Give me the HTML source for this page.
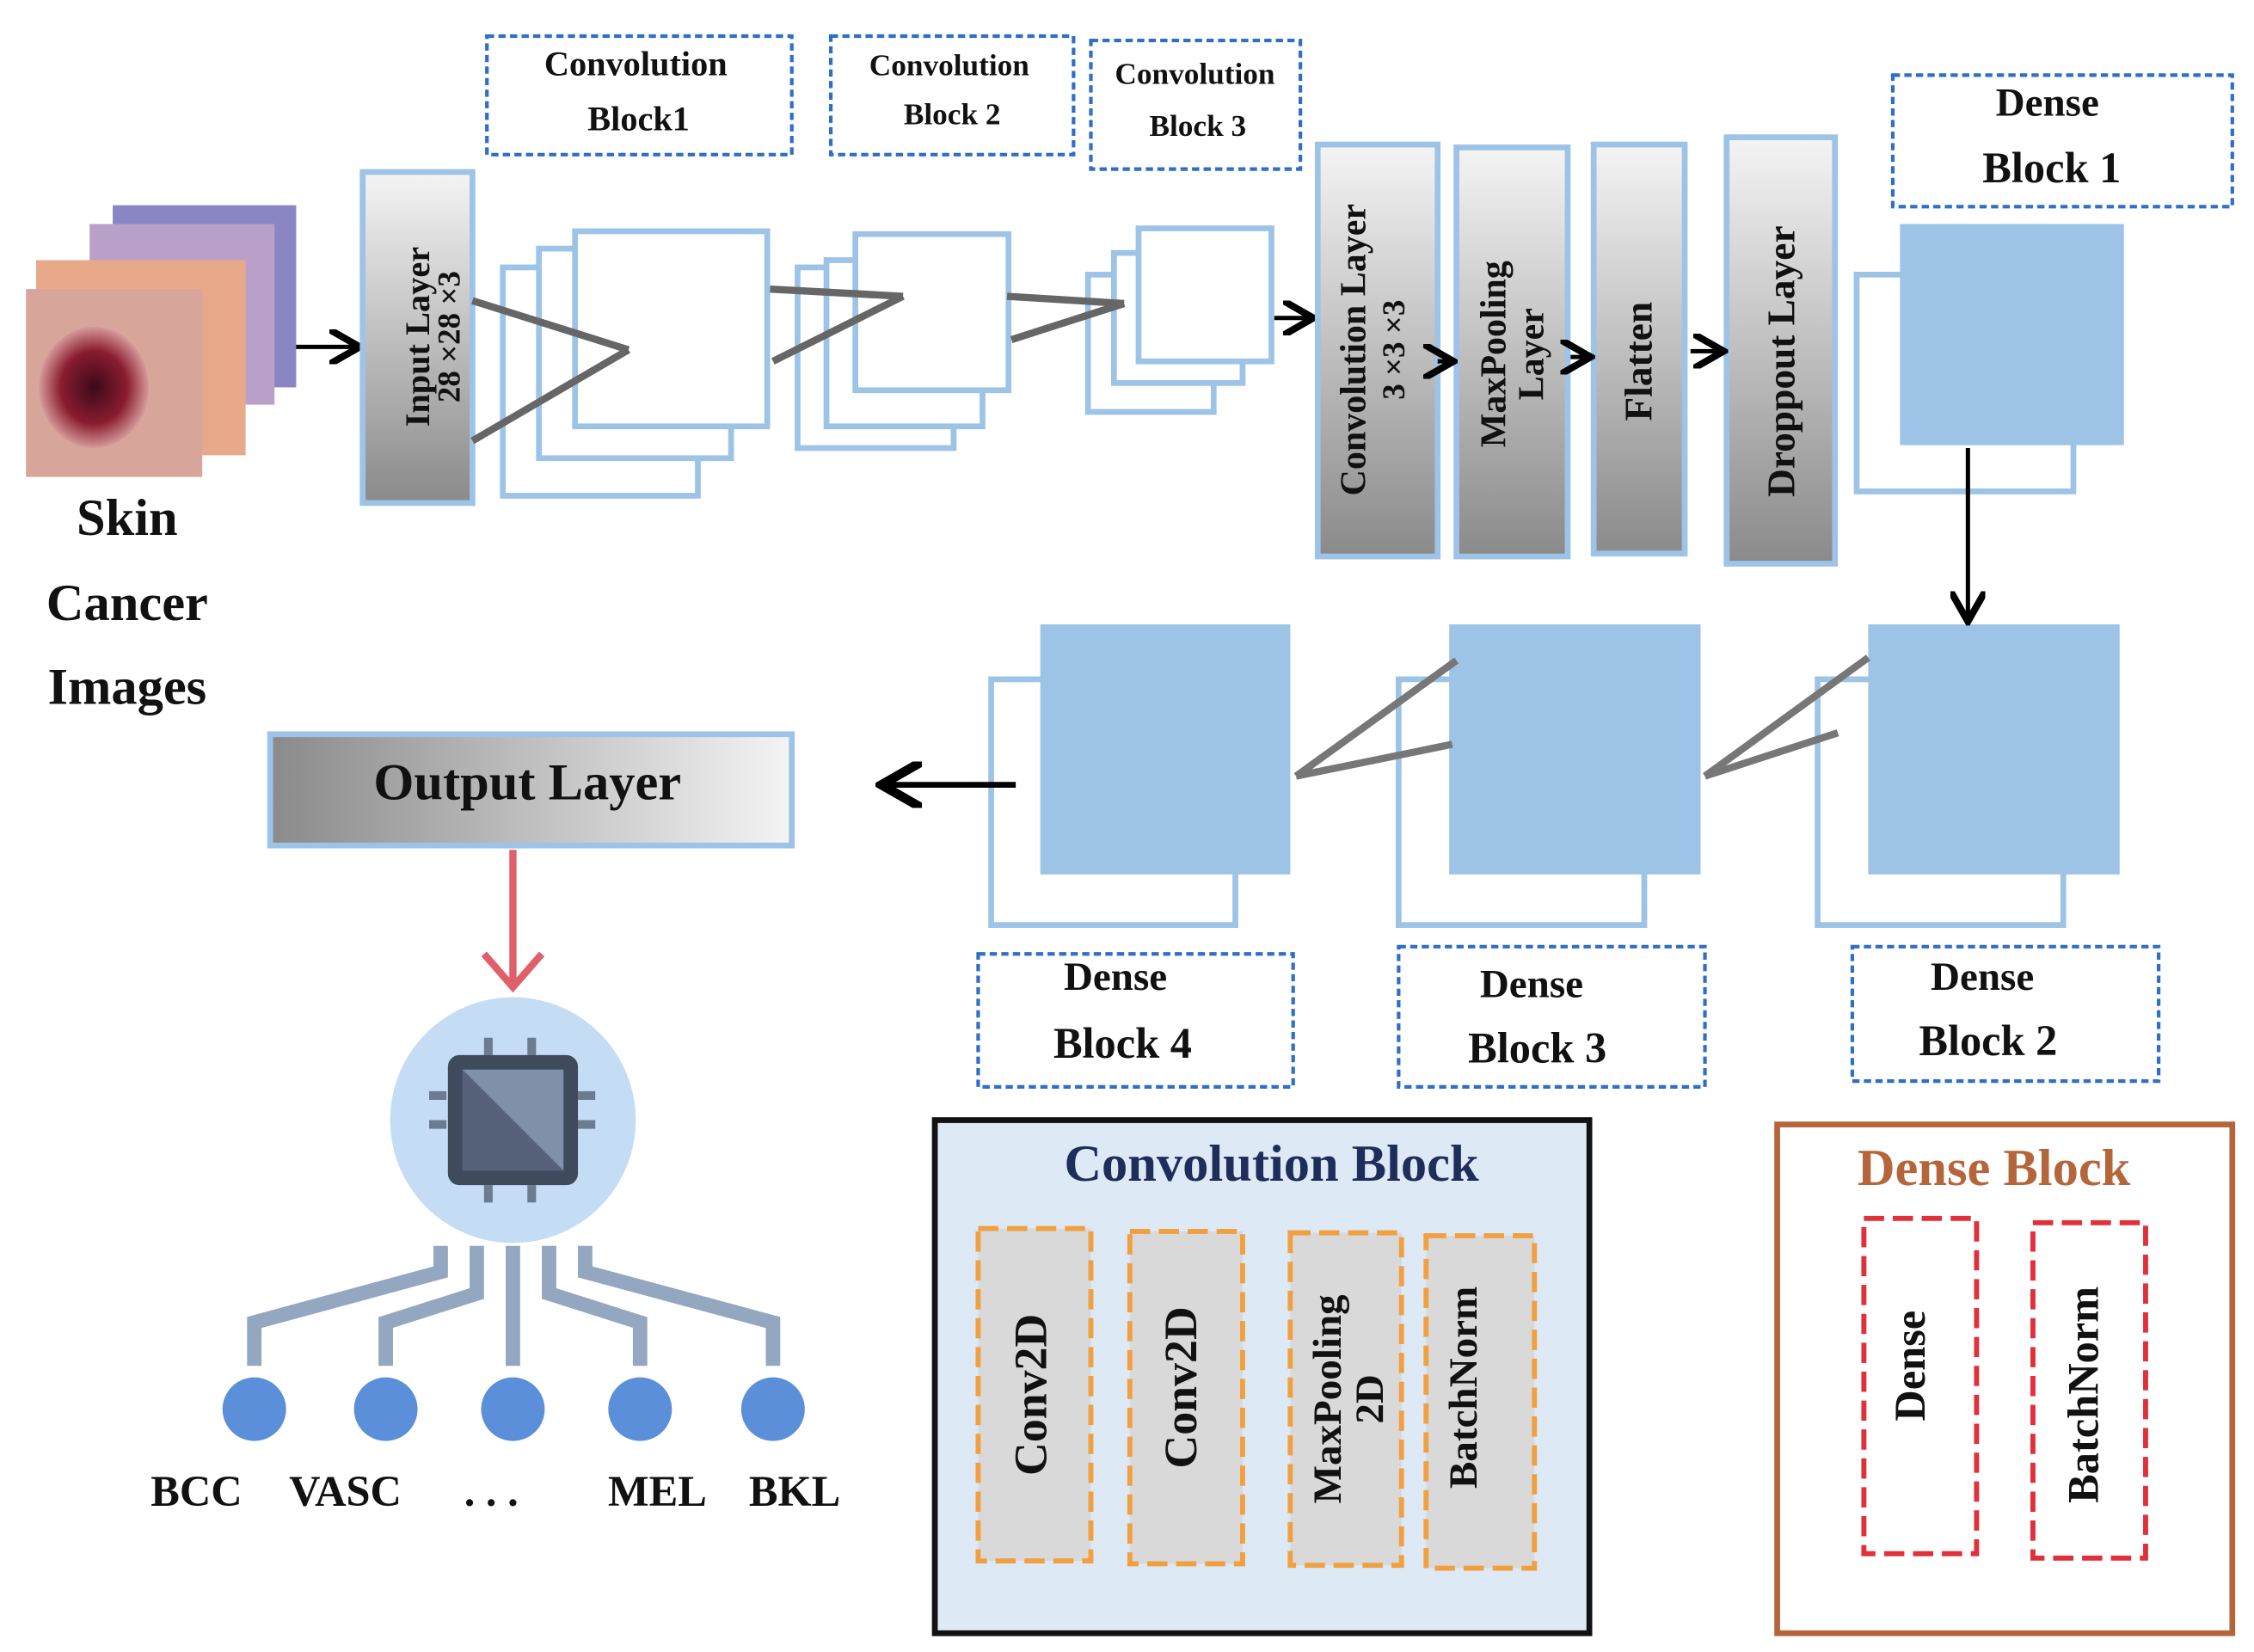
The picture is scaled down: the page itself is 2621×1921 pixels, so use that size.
<!DOCTYPE html>
<html><head><meta charset="utf-8"><style>
html,body{margin:0;padding:0;background:#fff}
svg{display:block}
text{font-family:"Liberation Serif",serif;font-weight:bold;fill:#111}
</style></head><body>
<svg width="2621" height="1921" viewBox="0 0 1560 1143" preserveAspectRatio="none" xmlns="http://www.w3.org/2000/svg">
<defs>
<linearGradient id="g" x1="0" y1="0" x2="1" y2="0"><stop offset="0" stop-color="#8a8a8a"/><stop offset="1" stop-color="#f4f4f4"/></linearGradient>
<linearGradient id="gv" x1="0" y1="1" x2="0" y2="0"><stop offset="0" stop-color="#8a8a8a"/><stop offset="1" stop-color="#f4f4f4"/></linearGradient>
<radialGradient id="les" cx="0.5" cy="0.5" r="0.5"><stop offset="0" stop-color="#3a0a18"/><stop offset="0.6" stop-color="#8a1c30"/><stop offset="1" stop-color="#d49a9a"/></radialGradient>
<marker id="ah" markerWidth="8" markerHeight="8" refX="6" refY="4" orient="auto"><path d="M0,0 L7,4 L0,8" fill="none" stroke="#000" stroke-width="1.6"/></marker>
</defs>
<!-- images -->
<rect x="78" y="142" width="127" height="126" fill="#8a86c4"/>
<rect x="62" y="155" width="128" height="125" fill="#b9a0c8"/>
<rect x="25" y="180" width="145" height="135" fill="#e8a88a"/>
<rect x="18" y="200" width="122" height="130" fill="#d8a59a"/>
<ellipse cx="65" cy="268" rx="38" ry="42" fill="url(#les)"/>
<text x="88" y="370" font-size="36" text-anchor="middle">Skin</text>
<text x="88" y="429" font-size="36" text-anchor="middle">Cancer</text>
<text x="88" y="487" font-size="36" text-anchor="middle">Images</text>
<line x1="205" y1="240" x2="246" y2="240" stroke="#000" stroke-width="3" marker-end="url(#ah)"/>
<!-- input layer -->
<rect x="251" y="119" width="76" height="229" fill="url(#gv)" stroke="#9dc3e6" stroke-width="4"/>
<text transform="translate(297,233) rotate(-90)" font-size="24" text-anchor="middle">Input Layer</text>
<text transform="translate(318,233) rotate(-90)" font-size="22" text-anchor="middle">28 ×28 ×3</text>
<!-- conv labels -->
<g fill="none" stroke="#2f6fc6" stroke-width="2.5" stroke-dasharray="5,3">
<rect x="337" y="25" width="211" height="82"/><rect x="575" y="25" width="168" height="82"/><rect x="755" y="28" width="145" height="89"/>
<rect x="1310" y="52" width="235" height="91"/><rect x="1282" y="655" width="212" height="93"/><rect x="968" y="655" width="212" height="97"/><rect x="677" y="660" width="218" height="92"/>
</g>
<text x="440" y="52" font-size="24" text-anchor="middle">Convolution</text>
<text x="442" y="90" font-size="24" text-anchor="middle">Block1</text>
<text x="657" y="52" font-size="21" text-anchor="middle">Convolution</text>
<text x="659" y="86" font-size="21" text-anchor="middle">Block  2</text>
<text x="827" y="58" font-size="21" text-anchor="middle">Convolution</text>
<text x="829" y="94" font-size="21" text-anchor="middle">Block  3</text>
<text x="1417" y="80" font-size="28" text-anchor="middle">Dense</text>
<text x="1420" y="126" font-size="30" text-anchor="middle">Block  1</text>
<text x="1372" y="685" font-size="28" text-anchor="middle">Dense</text>
<text x="1376" y="730" font-size="30" text-anchor="middle">Block  2</text>
<text x="1060" y="690" font-size="28" text-anchor="middle">Dense</text>
<text x="1064" y="735" font-size="30" text-anchor="middle">Block  3</text>
<text x="772" y="685" font-size="28" text-anchor="middle">Dense</text>
<text x="777" y="732" font-size="30" text-anchor="middle">Block  4</text>
<!-- conv stacks -->
<g fill="#fff" stroke="#9dc3e6" stroke-width="4">
<rect x="348" y="185" width="135" height="158"/><rect x="373" y="172" width="133" height="145"/><rect x="398" y="160" width="133" height="135"/>
<rect x="552" y="185" width="108" height="125"/><rect x="572" y="180" width="108" height="115"/><rect x="592" y="162" width="106" height="108"/>
<rect x="753" y="190" width="87" height="95"/><rect x="771" y="175" width="89" height="90"/><rect x="788" y="158" width="92" height="92"/>
</g>
<g stroke="#666" stroke-width="5">
<line x1="327" y1="208" x2="435" y2="242"/><line x1="327" y1="305" x2="435" y2="242"/>
<line x1="533" y1="200" x2="625" y2="205"/><line x1="535" y1="250" x2="625" y2="205"/>
<line x1="697" y1="205" x2="778" y2="210"/><line x1="700" y1="235" x2="778" y2="210"/>
</g>
<line x1="882" y1="220" x2="906" y2="220" stroke="#000" stroke-width="3" marker-end="url(#ah)"/>
<!-- vertical layers -->
<g fill="url(#gv)" stroke="#9dc3e6" stroke-width="4">
<rect x="912" y="100" width="83" height="285"/><rect x="1008" y="102" width="77" height="283"/><rect x="1103" y="100" width="63" height="283"/><rect x="1195" y="95" width="75" height="295"/>
</g>
<text transform="translate(945,242) rotate(-90)" font-size="25" text-anchor="middle">Convolution  Layer</text>
<text transform="translate(972,242) rotate(-90)" font-size="22" text-anchor="middle">3 ×3 ×3</text>
<text transform="translate(1042,245) rotate(-90)" font-size="25" text-anchor="middle">MaxPooling</text>
<text transform="translate(1068,245) rotate(-90)" font-size="25" text-anchor="middle">Layer</text>
<text transform="translate(1143,250) rotate(-90)" font-size="27" text-anchor="middle">Flatten</text>
<text transform="translate(1242,250) rotate(-90)" font-size="27" text-anchor="middle">Droppout Layer</text>
<line x1="995" y1="250" x2="1003" y2="250" stroke="#000" stroke-width="3" marker-end="url(#ah)"/>
<line x1="1087" y1="247" x2="1098" y2="247" stroke="#000" stroke-width="3" marker-end="url(#ah)"/>
<line x1="1170" y1="243" x2="1190" y2="243" stroke="#000" stroke-width="3" marker-end="url(#ah)"/>
<!-- dense blocks -->
<g fill="#fff" stroke="#9dc3e6" stroke-width="4">
<rect x="1285" y="190" width="150" height="150"/><rect x="1258" y="470" width="170" height="170"/><rect x="968" y="470" width="170" height="170"/><rect x="686" y="470" width="169" height="170"/>
</g>
<g fill="#9dc3e6">
<rect x="1315" y="155" width="155" height="153"/><rect x="1293" y="432" width="174" height="173"/><rect x="1003" y="432" width="174" height="173"/><rect x="720" y="432" width="173" height="173"/>
</g>
<line x1="1362" y1="310" x2="1362" y2="427" stroke="#000" stroke-width="3" marker-end="url(#ah)"/>
<g stroke="#777" stroke-width="5">
<line x1="1180" y1="537" x2="1293" y2="455"/><line x1="1180" y1="537" x2="1272" y2="507"/>
<line x1="897" y1="537" x2="1008" y2="457"/><line x1="897" y1="537" x2="1005" y2="515"/>
</g>
<line x1="703" y1="543" x2="614" y2="543" stroke="#000" stroke-width="4" marker-end="url(#ah)"/>
<!-- output -->
<rect x="187" y="508" width="361" height="77" fill="url(#g)" stroke="#9dc3e6" stroke-width="4"/>
<text x="365" y="553" font-size="36" text-anchor="middle">Output Layer</text>
<line x1="355" y1="588" x2="355" y2="680" stroke="#e0606a" stroke-width="5"/>
<path d="M335,660 L355,683 L375,660" fill="none" stroke="#e0606a" stroke-width="5"/>
<circle cx="355" cy="775" r="85" fill="#c5dcf5"/>
<g fill="#6b7b90"><rect x="297" y="755" width="12" height="6"/><rect x="297" y="775" width="12" height="6"/><rect x="400" y="755" width="12" height="6"/><rect x="400" y="775" width="12" height="6"/><rect x="335" y="718" width="6" height="12"/><rect x="365" y="718" width="6" height="12"/><rect x="335" y="820" width="6" height="12"/><rect x="365" y="820" width="6" height="12"/></g>
<rect x="310" y="730" width="90" height="90" rx="8" fill="#3f4a5c"/>
<path d="M320,740 L390,740 L390,810 Z" fill="#8090a8"/><path d="M320,740 L320,810 L390,810 Z" fill="#56627a"/>
<g fill="none" stroke="#93a7c0" stroke-width="10">
<path d="M305,862 L305,880 L176,915 L176,945"/><path d="M330,862 L330,895 L267,915 L267,945"/><path d="M355,862 L355,945"/><path d="M380,862 L380,895 L443,915 L443,945"/><path d="M405,862 L405,880 L535,915 L535,945"/>
</g>
<g fill="#5b8fd9"><circle cx="176" cy="975" r="22"/><circle cx="267" cy="975" r="22"/><circle cx="355" cy="975" r="22"/><circle cx="443" cy="975" r="22"/><circle cx="535" cy="975" r="22"/></g>
<text x="136" y="1042" font-size="30" text-anchor="middle">BCC</text>
<text x="239" y="1042" font-size="30" text-anchor="middle">VASC</text>
<text x="340" y="1042" font-size="30" text-anchor="middle">. . .</text>
<text x="455" y="1042" font-size="30" text-anchor="middle">MEL</text>
<text x="550" y="1042" font-size="30" text-anchor="middle">BKL</text>
<!-- legends -->
<rect x="647" y="775" width="453" height="355" fill="#dde9f5" stroke="#111" stroke-width="4"/>
<text x="880" y="817" font-size="36" text-anchor="middle" style="fill:#1f2d5a">Convolution Block</text>
<g fill="#d9d9d9" stroke="#f0a040" stroke-width="3.5" stroke-dasharray="14,6">
<rect x="677" y="850" width="78" height="230"/><rect x="782" y="852" width="78" height="230"/><rect x="893" y="853" width="77" height="230"/><rect x="987" y="855" width="75" height="230"/>
</g>
<text transform="translate(724,965) rotate(-90)" font-size="32" text-anchor="middle">Conv2D</text>
<text transform="translate(828,960) rotate(-90)" font-size="32" text-anchor="middle">Conv2D</text>
<text transform="translate(928,968) rotate(-90)" font-size="28" text-anchor="middle">MaxPooling</text>
<text transform="translate(957,968) rotate(-90)" font-size="28" text-anchor="middle">2D</text>
<text transform="translate(1022,960) rotate(-90)" font-size="28" text-anchor="middle">BatchNorm</text>
<rect x="1230" y="778" width="315" height="352" fill="#fff" stroke="#b5653a" stroke-width="4"/>
<text x="1380" y="820" font-size="36" text-anchor="middle" style="fill:#b5653a">Dense Block</text>
<g fill="#fff" stroke="#e0303a" stroke-width="3.5" stroke-dasharray="14,6">
<rect x="1290" y="843" width="78" height="232"/><rect x="1407" y="846" width="78" height="232"/>
</g>
<text transform="translate(1332,945) rotate(-90)" font-size="30" text-anchor="middle">Dense</text>
<text transform="translate(1452,965) rotate(-90)" font-size="30" text-anchor="middle">BatchNorm</text>
</svg>
</body></html>
